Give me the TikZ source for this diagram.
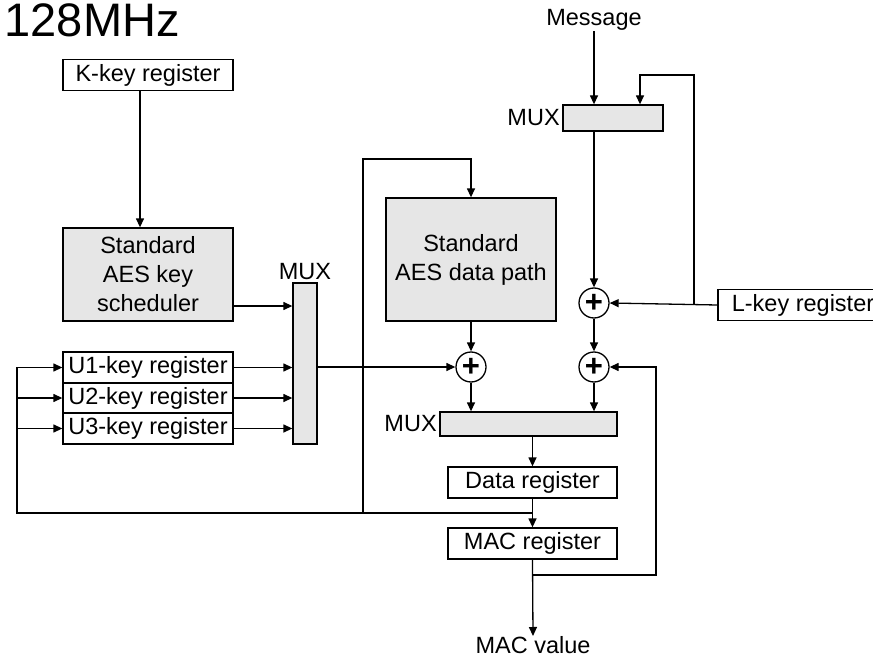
\documentclass[tikz,border=0pt]{standalone}
\usepackage{fontspec}
\setmainfont{Liberation Sans}
\usetikzlibrary{arrows.meta}
\definecolor{boxgray}{RGB}{230,230,230}
\begin{document}
\begin{tikzpicture}[x=1pt,y=-1pt,line width=1.3pt,font=\fontsize{23.5}{29}\selectfont]
        \tikzstyle{reg}=[draw,rectangle,minimum width=170pt,minimum height=31pt,inner sep=0pt]
        \tikzstyle{block}=[draw,rectangle,fill=boxgray,inner sep=0pt,align=center]
        \tikzstyle{mux}=[draw,rectangle,fill=boxgray,inner sep=0pt]
        \tikzstyle{xor}=[draw,circle,minimum size=30pt,inner sep=0pt,font=\fontsize{31}{31}\selectfont\bfseries]
        \tikzstyle{arr}=[draw,-{Triangle[length=9pt,width=8pt]}]
        \useasboundingbox (0,0) rectangle (873,658);

        \node [anchor=north west,inner sep=0pt,font=\fontsize{47}{47}\selectfont] (title) at (4,3) {128MHz};

        % key side
        \node [reg] (kreg) at (148,75) {K-key register};
        \node [block,minimum width=170pt,minimum height=93pt] (sched) at (148,274.5) {Standard\\AES key\\scheduler};
        \node [reg] (u1) at (148,367.5) {U1-key register};
        \node [reg] (u2) at (148,398) {U2-key register};
        \node [reg] (u3) at (148,428.5) {U3-key register};
        \node [mux,minimum width=24pt,minimum height=161pt] (mux1) at (305,363.5) {};
        \node [anchor=south,inner sep=2pt] (mux1l) at (mux1.north) {MUX};

        % data side
        \node [block,minimum width=170pt,minimum height=123pt] (aes) at (471,259.5) {Standard\\AES data path};
        \node [xor] (xor1) at (471,367) {+};
        \node [mux,minimum width=177pt,minimum height=24pt] (mux3) at (528.5,424) {};
        \node [anchor=east,inner sep=2pt] (mux3l) at (mux3.west) {MUX};
        \node [reg,minimum width=169pt] (dreg) at (532.5,482.5) {Data register};
        \node [reg,minimum width=169pt] (macreg) at (532.5,543.5) {MAC register};
        \node [anchor=north,inner sep=0pt] (macval) at (533,636) {MAC value};

        % message side
        \node [inner sep=0pt] (msg) at (594,20) {Message};
        \node [mux,minimum width=100pt,minimum height=26pt] (mux2) at (613,118) {};
        \node [anchor=east,inner sep=2pt] (mux2l) at (mux2.west) {MUX};
        \node [xor] (xor2) at (594,303) {+};
        \node [xor] (xor3) at (594,367) {+};
        \node [reg] (lreg) at (803,305) {L-key register};

        \coordinate (dtap) at (532.5,513);
        \coordinate (lc) at (17,513);
        \coordinate (ac) at (363,513);
        \coordinate (at) at (363,159);
        \coordinate (lt) at (694,305);
        \coordinate (mt) at (694,75);
        \coordinate (mb) at (532.5,575);
        \coordinate (mr) at (656,575);

        \path[arr] ([xshift=-8pt]kreg.south) -- ([xshift=-8pt]sched.north);
        \path[arr] ([yshift=-31.5pt]sched.east) -- ([yshift=-31.5pt]sched.east -| mux1.west);
        \path[arr] (u1.east) -- (u1.east -| mux1.west);
        \path[arr] (u2.east) -- (u2.east -| mux1.west);
        \path[arr] (u3.east) -- (u3.east -| mux1.west);
        \path[arr] (mux1.east |- xor1.west) -- (xor1.west);

        \path[arr] (dtap) -- (lc) |- (u1.west);
        \path[arr] (lc |- u2.west) -- (u2.west);
        \path[arr] (lc |- u3.west) -- (u3.west);
        \path[arr] (ac) -- (at) -| (aes.north);

        \path[arr] (aes.south) -- (xor1.north);
        \path[arr] (xor1.south) -- (mux3.north -| xor1.south);

        \path[arr] (msg.south) -- (mux2.north -| msg.south);
        \path[arr] (lt) -- (mt) -| ([xshift=27pt]mux2.north);
        \path[arr] (mux2.south -| xor2.north) -- (xor2.north);
        \path[arr] (lreg.west) -- (xor2.east);
        \path[arr] (xor2.south) -- (xor3.north);
        \path[arr] (xor3.south) -- (mux3.north -| xor3.south);

        \path[arr] (mux3.south -| dreg.north) -- (dreg.north);
        \path[arr] (dreg.south) -- (macreg.north);
        \path[arr] (macreg.south) -- (macval.north);
        \path[arr] (mb) -- (mr) |- (xor3.east);
      \end{tikzpicture}
\end{document}
